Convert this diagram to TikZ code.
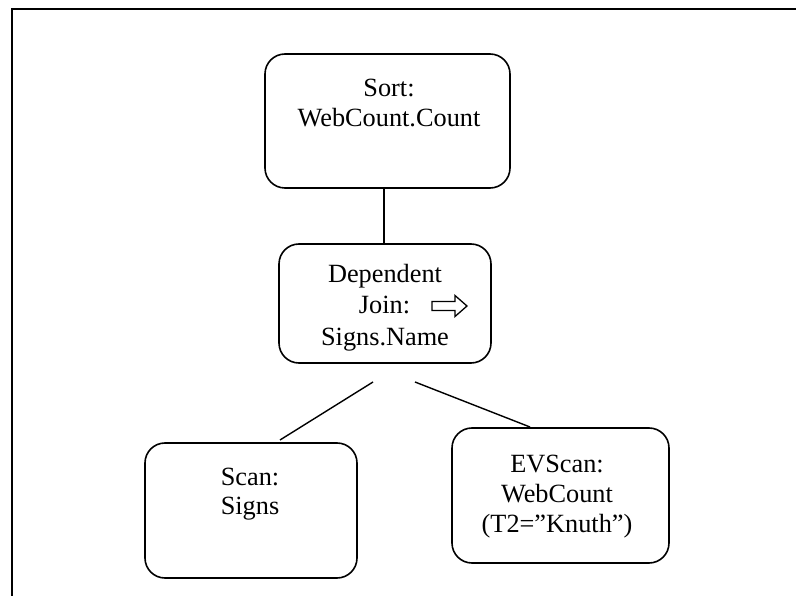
\documentclass[tikz,border=0pt]{standalone}
\usepackage{fontspec}
\setmainfont{Liberation Serif}
\begin{document}
\begin{tikzpicture}[x=1pt,y=-1pt,
  opbox/.style={draw, line width=1.6pt, rounded corners=20pt, inner sep=0pt},
  txt/.style={anchor=base, inner sep=0pt, font=\fontsize{26.3}{30}\selectfont},
  link/.style={line width=1.4pt}]
\useasboundingbox (0,0) rectangle (796,596);
% open frame: top and left edges only
\draw[line width=2pt] (796,9) -- (12,9) -- (12,596);

% operator boxes
\node[opbox, minimum width=245pt, minimum height=134pt] (sort) at (387.5,121) {};
\node[opbox, minimum width=212pt, minimum height=119pt] (dep)  at (385,303.5) {};
\node[opbox, minimum width=212pt, minimum height=135pt] (scan) at (251,510.5) {};
\node[opbox, minimum width=217pt, minimum height=135pt] (evs)  at (560.5,495.5) {};

% labels
\node[txt] (sortA) at (389,97)  {Sort:};
\node[txt] (sortB) at (389,127) {WebCount.Count};
\node[txt] (depA)  at (385,283) {Dependent};
\node[txt] (depB)  at (384.5,314) {Join:};
\node[txt] (depC)  at (385,345) {Signs.Name};
\node[txt] (scanA) at (250,485) {Scan:};
\node[txt] (scanB) at (250,514) {Signs};
\node[txt] (evsA)  at (557,472) {EVScan:};
\node[txt] (evsB)  at (557,502) {WebCount};
\node[txt] (evsC)  at (557,532) {(T2=”Knuth”)};

% hollow arrow beside "Join:"
\draw[line width=1.3pt, line join=miter]
  (432,301.5) -- (455,301.5) -- (455,295.5) -- (467,306) -- (455,316.5)
  -- (455,310.5) -- (432,310.5) -- cycle;

% edges of the plan tree
\coordinate (depL) at (373,382);
\coordinate (depR) at (415,382);
\coordinate (scanT) at (280,440);
\coordinate (evsT) at (530,427);
\draw[link] (sort.south -| 384,0) -- (dep.north -| 384,0);
\draw[link] (depL) -- (scanT);
\draw[link] (depR) -- (evsT);
\end{tikzpicture}
\end{document}
